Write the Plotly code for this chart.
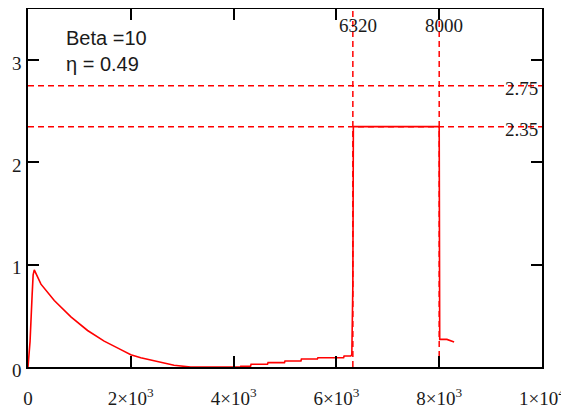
import plotly.graph_objects as go

# curve data
curve_x = [0, 40, 80, 100, 122, 252, 511, 835, 1159, 1482, 1806, 2000, 2194, 2356, 2518, 2841, 3165,
           3500, 4136, 4140, 4330, 4340, 4660, 4670, 4990, 5000, 5310, 5320, 5630, 5640, 5950, 5960,
           6140, 6150, 6280, 6300, 6320, 6330, 7980, 8000, 8010, 8150, 8290]
curve_y = [0, 0.25, 0.7, 0.9, 0.95, 0.81, 0.65, 0.49, 0.357, 0.253, 0.17, 0.12, 0.09, 0.072, 0.05, 0.017, 0.0,
           0.0, 0.0, 0.008, 0.008, 0.027, 0.027, 0.043, 0.043, 0.058, 0.058, 0.078, 0.078, 0.09, 0.09, 0.09,
           0.09, 0.107, 0.107, 0.12, 0.8, 2.35, 2.35, 2.35, 0.27, 0.27, 0.245]

vlines = [6320, 8000]
vline_labels = ["6320", "8000"]
hlines = [2.75, 2.35]
hline_labels = ["2.75", "2.35"]

x_tickvals = [0, 2000, 4000, 6000, 8000, 10000]
x_ticktext = ["0", "2×10<sup>3</sup>", "4×10<sup>3</sup>", "6×10<sup>3</sup>", "8×10<sup>3</sup>", "1×10<sup>4</sup>"]
y_tickvals = [0, 1, 2, 3]
y_ticktext = ["0", "1", "2", "3"]

info_lines = ["Beta =10", "η = 0.49"]

RED = "#ff0000"
fig = go.Figure()

for v in vlines:
    fig.add_trace(go.Scatter(x=[v, v], y=[0, 3.5], mode="lines",
                             line=dict(color=RED, width=1.5, dash="6px,4px"),
                             hoverinfo="skip", showlegend=False))
for h in hlines:
    fig.add_trace(go.Scatter(x=[0, 10000], y=[h, h], mode="lines",
                             line=dict(color=RED, width=1.5, dash="6px,4px"),
                             hoverinfo="skip", showlegend=False))

fig.add_trace(go.Scatter(x=curve_x, y=curve_y, mode="lines",
                         line=dict(color=RED, width=1.6), showlegend=False))

serif = "Liberation Serif"
for v, t in zip(vlines, vline_labels):
    fig.add_annotation(x=v, y=3.5, xref="x", yref="y", text=t, showarrow=False,
                       xanchor="center", yanchor="top", xshift=5, yshift=-4,
                       font=dict(family=serif, size=19, color="#1a1a1a"))
for h, t in zip(hlines, hline_labels):
    fig.add_annotation(x=10000, y=h, xref="x", yref="y", text=t, showarrow=False,
                       xanchor="right", yanchor="middle", xshift=-2, yshift=-3,
                       font=dict(family=serif, size=19, color="#1a1a1a"))

for i, t in enumerate(info_lines):
    fig.add_annotation(x=700, y=[3.22, 2.96][i], xref="x", yref="y", text=t, showarrow=False,
                       xanchor="left", yanchor="middle",
                       font=dict(family="Liberation Sans", size=20, color="#1a1a1a"))

axis_common = dict(showline=True, linecolor="black", linewidth=1.5, mirror="ticks",
                   ticks="inside", ticklen=11, tickwidth=1.5, tickcolor="black",
                   showgrid=False, zeroline=False, automargin=False,
                   tickfont=dict(family=serif, size=19, color="#1a1a1a"))

fig.update_xaxes(range=[0, 10000], tickvals=x_tickvals, ticktext=x_ticktext,
                 ticklabelstandoff=13, **axis_common)
fig.update_yaxes(range=[0, 3.5], tickvals=y_tickvals, ticktext=y_ticktext,
                 ticklabelstandoff=1, ticklabelshift=3, **axis_common)

# page has an 8px body margin, so the figure is sized/offset to compensate
fig.update_layout(width=561, height=402, margin=dict(l=20, r=27, t=1, b=43),
                  plot_bgcolor="white", paper_bgcolor="white")

fig.write_html("out.html")
